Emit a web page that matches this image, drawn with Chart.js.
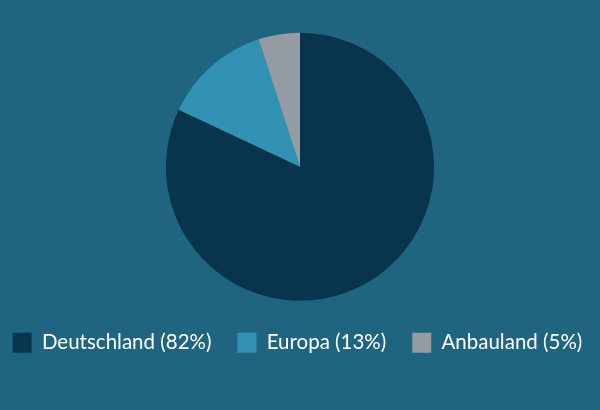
<!DOCTYPE html>
<html>
<head>
<meta charset="utf-8">
<script src="https://cdn.jsdelivr.net/npm/chart.js@4"></script>
<style>
  html, body { margin: 0; padding: 0; background: #1f6580; }
  canvas { display: block; }
</style>
</head>
<body>
<canvas id="myChart" width="600" height="410"></canvas>
<script>
// Herkunft - Anteile
const categories = ["Deutschland", "Europa", "Anbauland"];
const shares = [82, 13, 5];
const sliceColors = ["#08354d", "#3192b4", "#949ba3"];

const labels = categories.map((c, i) => c + " (" + shares[i] + "%)");

new Chart("myChart", {
  type: "pie",
  data: {
    labels: labels,
    datasets: [
      {
        data: shares,
        backgroundColor: sliceColors,
        borderWidth: 0,
        radius: 134,
      },
    ],
  },
  options: {
    responsive: false,
    animation: false,
    // negative side padding so the legend fits on one row
    layout: { padding: { top: 27, right: -13, bottom: 47, left: -18 } },
    plugins: {
      tooltip: { enabled: false },
      legend: {
        position: "bottom",
        labels: {
          color: "#ffffff",
          boxWidth: 19,
          boxHeight: 20,
          padding: 26,
          font: { family: "Lato", size: 20.5 },
        },
      },
    },
  },
});
</script>
</body>
</html>
